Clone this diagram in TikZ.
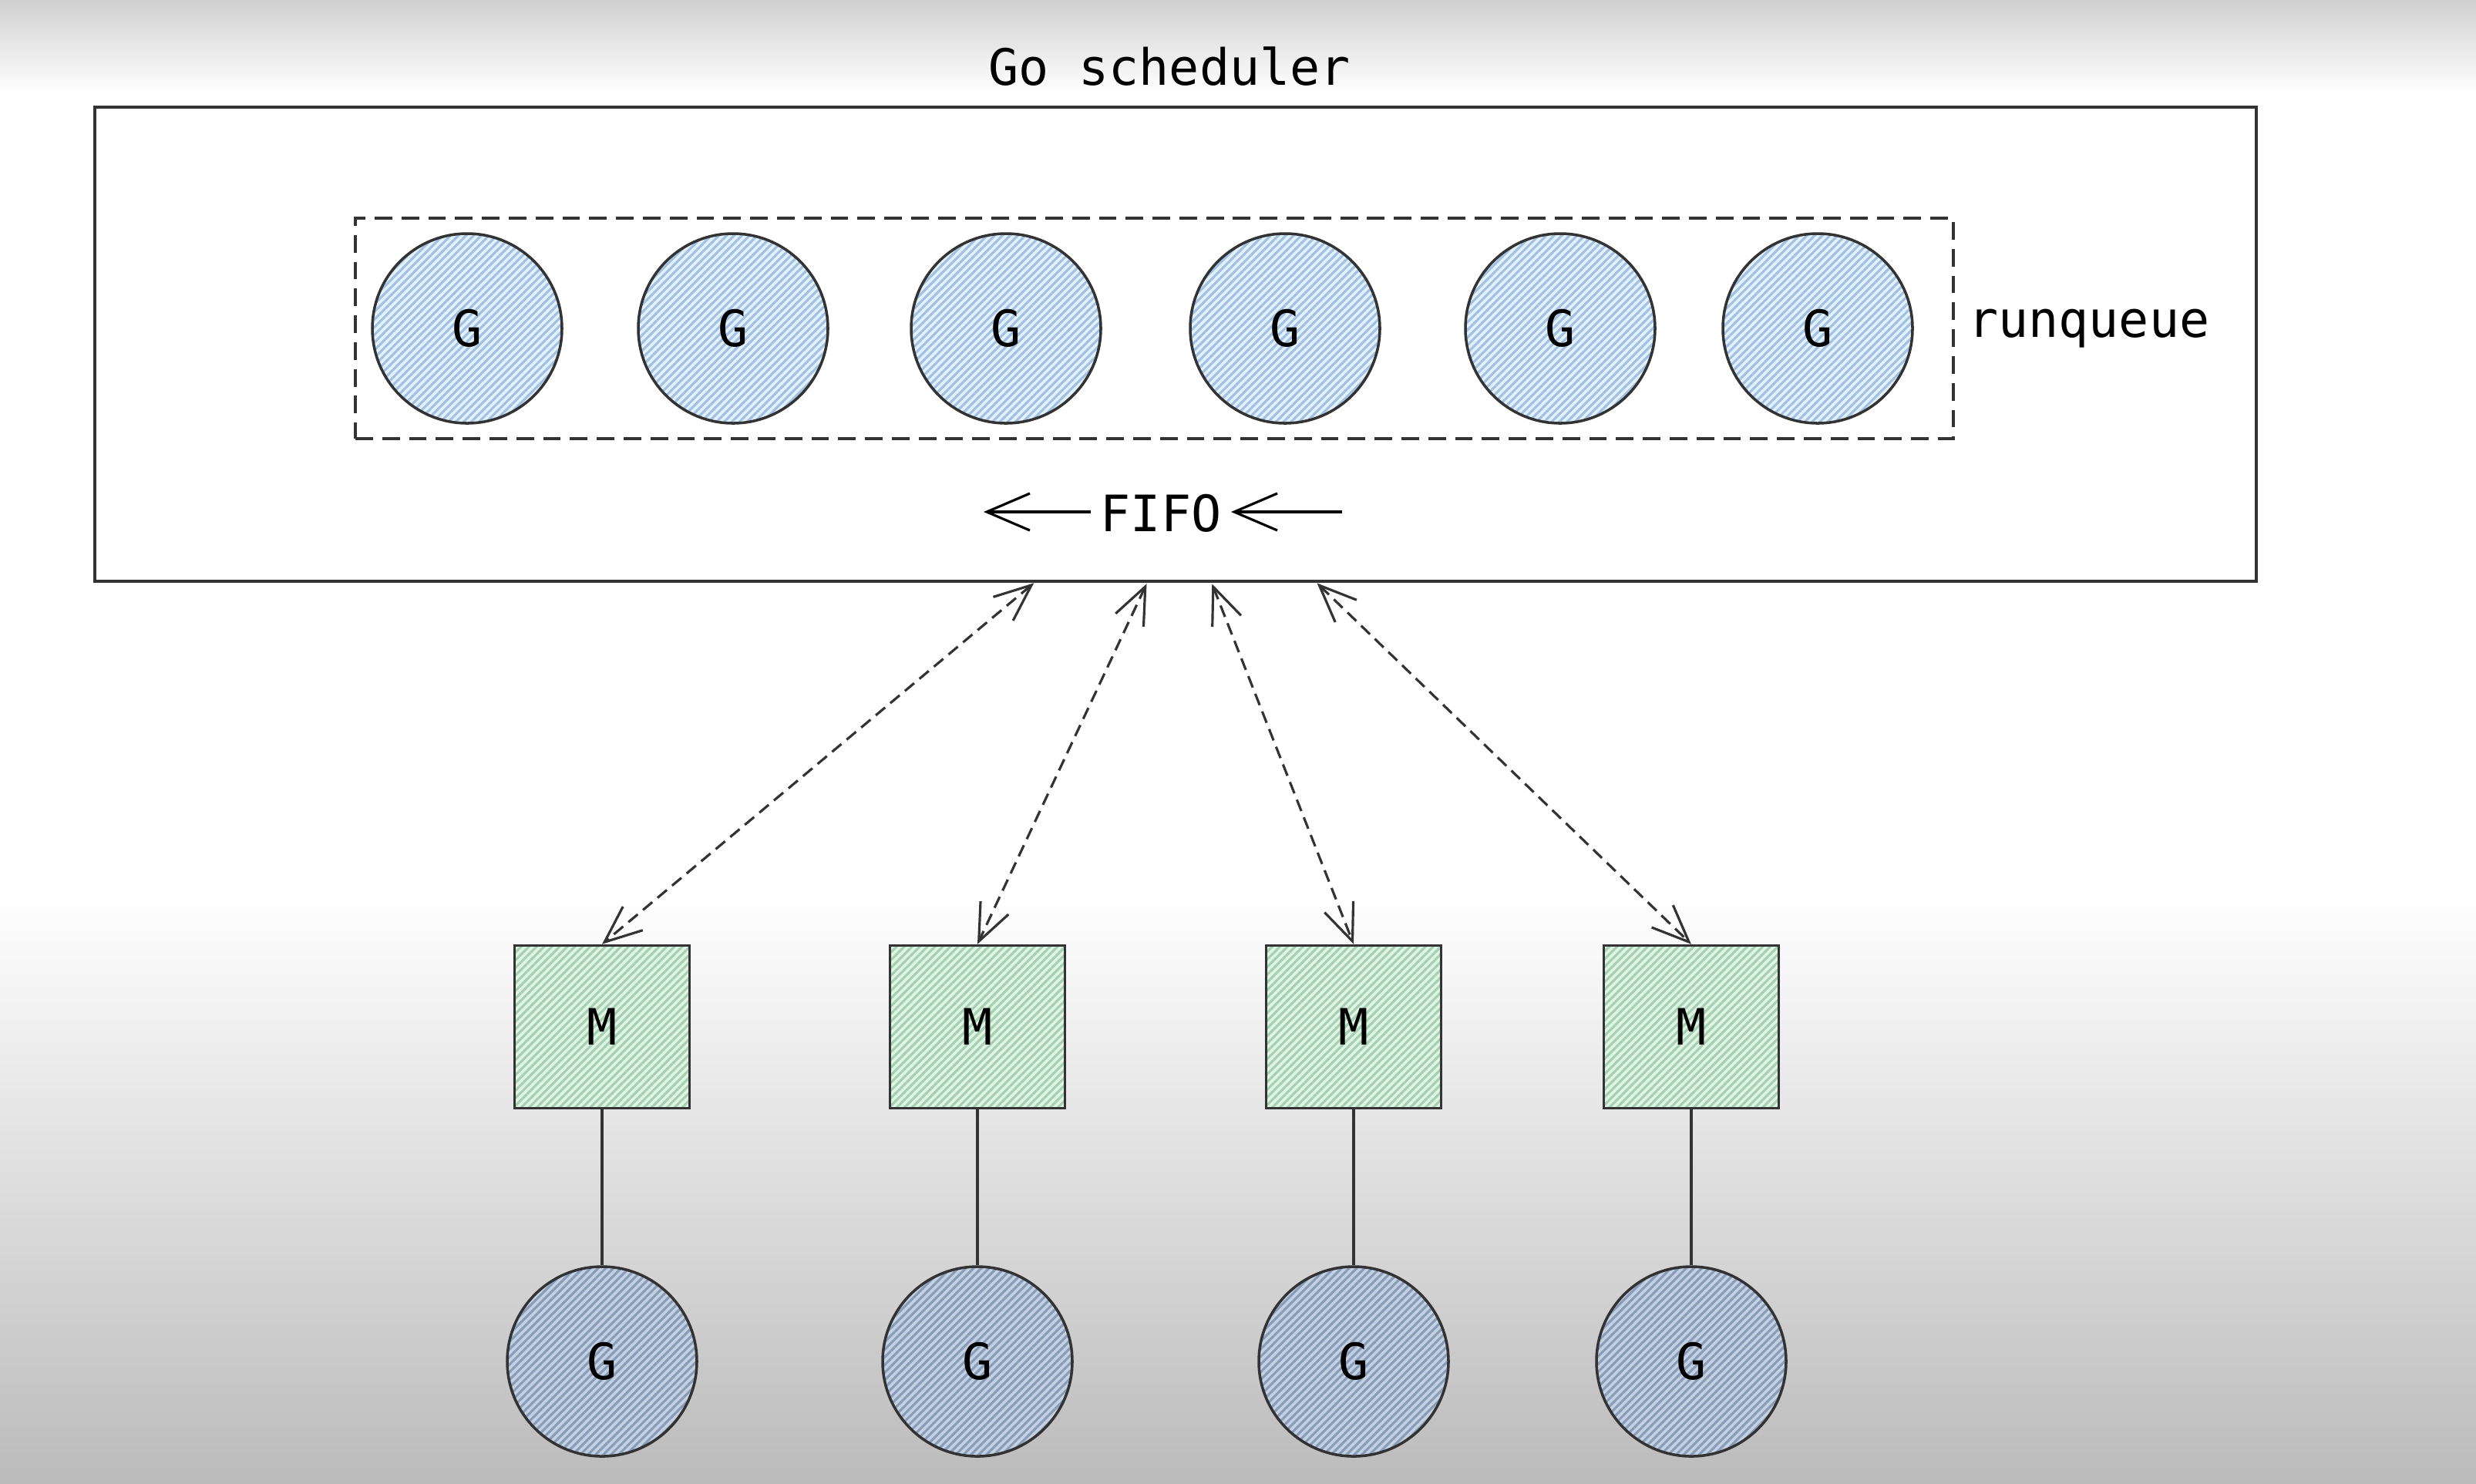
\documentclass[tikz,border=0pt]{standalone}
\usepackage{fontspec}
\usepackage{tikz}
\usetikzlibrary{positioning, arrows.meta, patterns.meta, calc}

\newfontfamily\monofont{DejaVu Sans Mono}

\definecolor{bgtop}{HTML}{D0D0D0}
\definecolor{bgbot}{HTML}{BBBBBB}
\definecolor{linegray}{HTML}{333333}
\definecolor{gfill}{HTML}{E6F0FA}
\definecolor{ghatch}{HTML}{9EC2E6}
\definecolor{mfill}{HTML}{E2F3E6}
\definecolor{mhatch}{HTML}{A2D2B0}
\definecolor{wfill}{HTML}{C4D1DF}
\definecolor{whatch}{HTML}{889DBC}

\tikzset{
    txt/.style={font=\monofont\fontsize{18.5}{22}\selectfont, text=black},
    gnode/.style={txt, circle, draw=linegray, line width=1pt, minimum size=2.46cm, inner sep=0pt,
        preaction={fill=gfill},
        pattern={Lines[angle=45, distance=2pt, line width=0.9pt]}, pattern color=ghatch},
    mnode/.style={txt, rectangle, draw=linegray, line width=1pt, minimum width=2.27cm, minimum height=2.11cm,
        preaction={fill=mfill},
        pattern={Lines[angle=45, distance=2pt, line width=0.9pt]}, pattern color=mhatch},
    wnode/.style={txt, circle, draw=linegray, line width=1pt, minimum size=2.46cm, inner sep=0pt,
        preaction={fill=wfill},
        pattern={Lines[angle=45, distance=2pt, line width=0.9pt]}, pattern color=whatch},
    schedbox/.style={draw=linegray, line width=1.2pt, minimum width=28.04cm, minimum height=6.15cm},
    queuebox/.style={draw=linegray, line width=1pt, dash pattern=on 6.5pt off 3.4pt,
        minimum width=20.73cm, minimum height=2.86cm},
    fifoarrow/.style={-{Straight Barb[length=5.6mm, width=4.8mm, line width=0.9pt]}, line width=0.9pt, black},
    linkarrow/.style={{Straight Barb[length=4.8mm, width=4mm, line width=0.9pt]}-{Straight Barb[length=4.8mm, width=4mm, line width=0.9pt]},
        line width=0.9pt, linegray, dash pattern=on 4.5pt off 2.5pt, shorten <=1pt},
    tieline/.style={line width=1pt, linegray}
}

\begin{document}
\begin{tikzpicture}
    % Background
    \useasboundingbox (0,0) rectangle (32.12,-19.24);
    \shade[top color=bgtop, bottom color=white] (0,0) rectangle (32.12,-1.2);
    \fill[white] (0,-1.2) rectangle (32.12,-11.6);
    \shade[top color=white, bottom color=bgbot] (0,-11.6) rectangle (32.12,-19.24);

    % Scheduler
    \node[schedbox] (sched) at (15.25,-4.465) {};
    \node[txt] (title) at (15.17,-0.86) {Go scheduler};

    % Runqueue
    \node[queuebox] (rq) at (14.975,-4.26) {};
    \node[txt, right=0.05cm of rq] (rqlabel) {runqueue};
    \foreach \x [count=\i] in {6.06,9.51,13.05,16.67,20.24,23.58}
        \node[gnode] (g\i) at (\x,-4.26) {G};

    % FIFO
    \node[txt, inner sep=0.12cm] (fifo) at (15.06,-6.66) {FIFO};
    \coordinate (fifoout) at (12.76,-6.64);
    \coordinate (fifoin) at (17.41,-6.64);
    \draw[fifoarrow] (fifo.west |- fifoout) -- (fifoout);
    \draw[fifoarrow] (fifoin) -- (fifo.east |- fifoin);

    % Threads with running goroutines
    \foreach \x [count=\i] in {7.81,12.68,17.56,21.94} {
        \node[mnode] (m\i) at (\x,-13.32) {M};
        \node[wnode, below=2.02cm of m\i] (w\i) {G};
        \draw[tieline] (m\i) -- (w\i);
    }

    % Links to the scheduler
    \foreach \x [count=\i] in {13.44,14.89,15.71,17.06} {
        \coordinate (p\i) at (\x,-7.54);
        \draw[linkarrow] (p\i) -- (m\i.north);
    }
\end{tikzpicture}
\end{document}
